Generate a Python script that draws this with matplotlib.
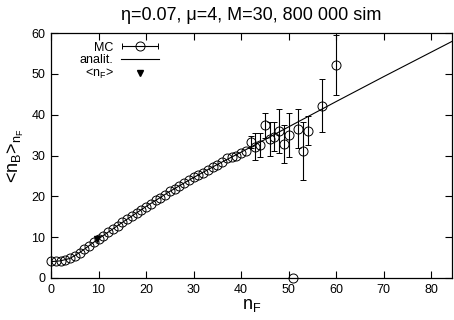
import numpy as np
import matplotlib.pyplot as plt
import matplotlib as mpl
from matplotlib.container import ErrorbarContainer
from matplotlib.legend_handler import HandlerErrorbar

mpl.rcParams['font.family'] = ['Liberation Sans', 'DejaVu Sans']
mpl.rcParams['mathtext.fontset'] = 'custom'
mpl.rcParams['mathtext.rm'] = 'Liberation Sans'
mpl.rcParams['mathtext.it'] = 'Liberation Sans'

# MC points, dense part (errors smaller than the symbols)
mc_x = list(range(0, 42))
mc_y = [4.1, 4.1, 4.2, 4.4, 4.9, 5.5, 6.2, 7.0, 7.9, 8.7,
        9.6, 10.4, 11.2, 12.0, 12.8, 13.6, 14.4, 15.2, 16.0, 16.7,
        17.5, 18.2, 19.0, 19.7, 20.4, 21.2, 21.9, 22.5, 23.3, 24.0,
        24.8, 25.3, 25.8, 26.5, 27.1, 27.6, 28.3, 29.4, 29.6, 30.0,
        30.5, 31.0]

# MC points, sparse tail with big error bars
tail_x = [42, 43, 44, 45, 46, 47, 48, 49, 50, 51, 52, 53, 54, 57, 60]
tail_y = [33.3, 32.2, 32.6, 37.4, 34.1, 34.6, 36.1, 32.8, 35.1, 0.0,
          36.6, 31.1, 36.1, 42.2, 52.2]
tail_err = [1.5, 3.4, 3.0, 3.0, 4.2, 3.5, 5.4, 4.7, 5.4, 0.0,
            4.8, 7.0, 3.6, 6.5, 7.3]

# analytical curve
an_x = [0, 2, 4, 6, 8, 10, 15, 20, 25, 30, 35, 40, 50, 60, 70, 85]
an_y = [4.0, 4.2, 4.8, 6.2, 7.9, 9.6, 13.6, 17.5, 21.2, 24.6, 27.8,
        30.8, 37.0, 43.2, 49.3, 58.3]

# mean n_F
nf_mean = [9.6]
nb_at_mean = [9.6]

fig = plt.figure(figsize=(4.54, 3.2), dpi=100)
ax = fig.add_axes([51/454, 42/320, 401/454, 245/320])

line_an, = ax.plot(an_x, an_y, color='black', lw=0.8, zorder=2)
ax.plot(mc_x, mc_y, 'o', mfc='none', mec='black', ms=6.5, mew=0.7, zorder=3,
        clip_on=False)
ax.errorbar(tail_x, tail_y, yerr=tail_err, fmt='o', mfc='none', mec='black',
            ms=6.5, mew=0.7, ecolor='black', elinewidth=0.8, capsize=2,
            capthick=0.8, zorder=3, clip_on=False)
tri, = ax.plot(nf_mean, nb_at_mean, 'v', color='black', ms=5, zorder=4)

# legend sample for MC: circle with horizontal error bar (drawn off-screen)
mc_handle = ax.errorbar([-100], [-100], xerr=[1], fmt='o', mfc='none', mec='black',
                        ms=6.5, mew=0.7, ecolor='black', elinewidth=0.8,
                        capsize=2, capthick=0.8)
leg = ax.legend([mc_handle, line_an, tri], ['MC', 'analit.', '<n$_F$>'],
                loc='upper left', bbox_to_anchor=(0.05, 1.0), frameon=False,
                markerfirst=False, fontsize=9, handlelength=3.0,
                labelspacing=0.05, handletextpad=0.6, borderaxespad=0.3,
                handler_map={ErrorbarContainer: HandlerErrorbar(xerr_size=1.45)})

ax.set_xlim(0, 84.4)
ax.set_ylim(0, 60)
ax.set_xticks(np.arange(0, 81, 10))
ax.set_yticks(np.arange(0, 61, 10))
ax.tick_params(direction='in', top=True, right=True, length=5, width=0.8,
               labelsize=9, pad=4)
for s in ax.spines.values():
    s.set_linewidth(0.9)

ax.set_xlabel('n$_F$', fontsize=13, labelpad=1)
ax.set_ylabel('<n$_B$>$_{n_F}$', fontsize=13, labelpad=4)
ax.set_title('η=0.07, μ=4, M=30, 800 000 sim', fontsize=13, pad=9)

fig.savefig('out.png', dpi=100)
